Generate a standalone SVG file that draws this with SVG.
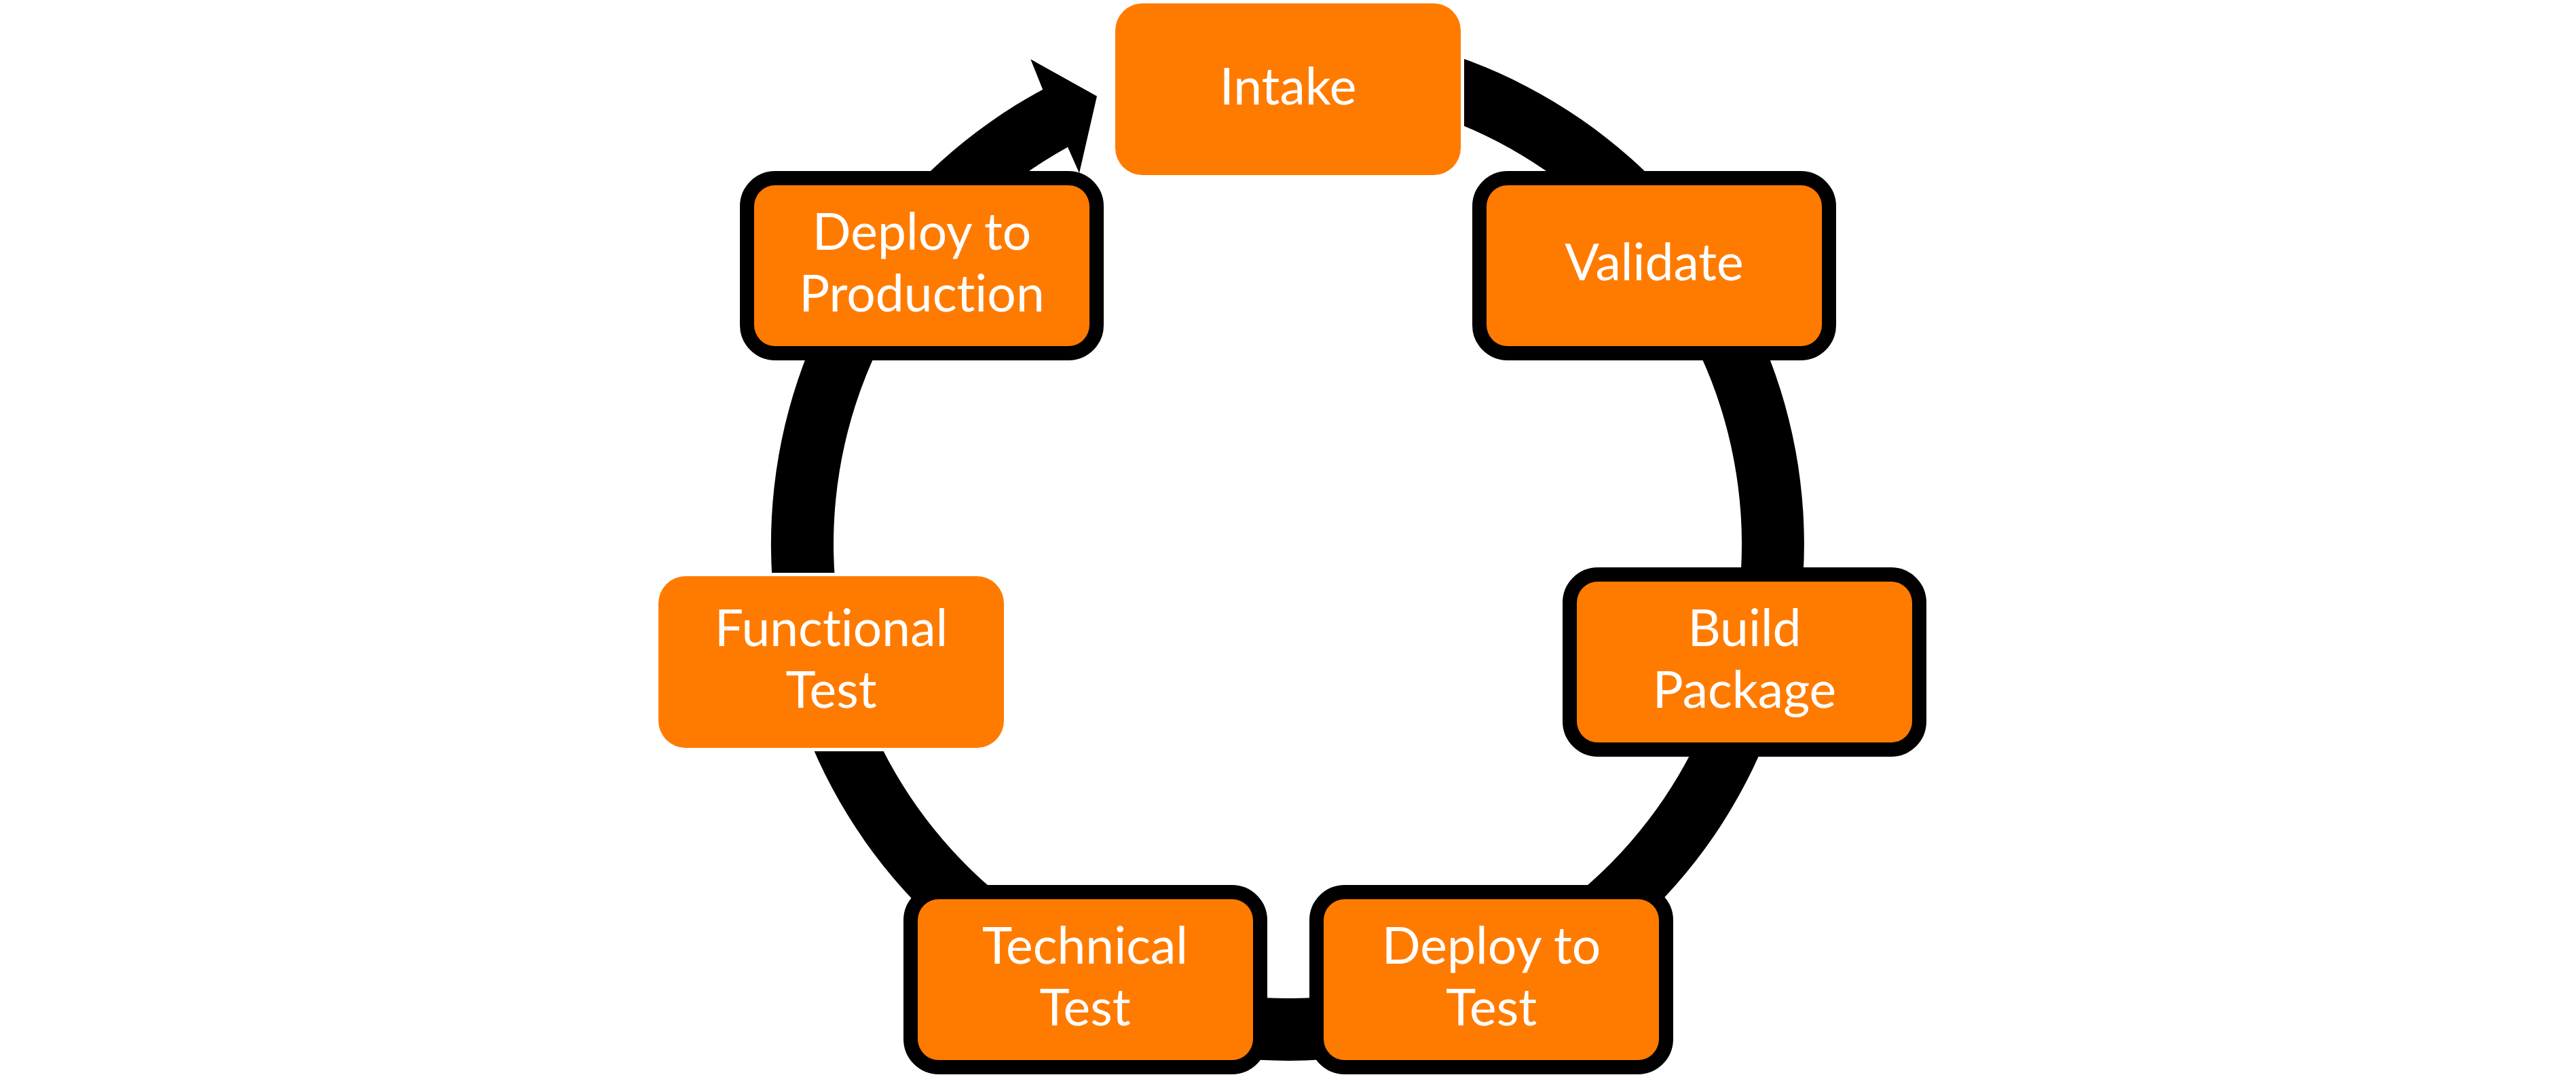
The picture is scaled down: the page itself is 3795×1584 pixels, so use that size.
<svg xmlns="http://www.w3.org/2000/svg" width="3795" height="1584" viewBox="0 0 3795 1584">
<style>
.plain{fill:#FF7B00;stroke:#FFFFFF;stroke-width:10;paint-order:stroke}
.bord{fill:#FF7B00;stroke:#000000;stroke-width:42;paint-order:stroke}
.lbl{font-family:Lato,"Open Sans","Liberation Sans",sans-serif;font-size:75px;fill:#FFFFFF;text-anchor:middle;font-variant-ligatures:none;font-feature-settings:"liga" 0,"clig" 0}
</style>
<rect width="3795" height="1584" fill="#FFFFFF"/>
<g id="connectors">
<path id="cycle-arrow" d="M 1897,41 A 761 761 0 1 1 1536.2,131.9 L 1518.3,87.3 L 1616,141.7 L 1590,255 L 1573,216.7 A 669 669 0 1 0 1897,133 Z" fill="#000000"/>
</g>
<g id="node-intake">
<rect class="plain" x="1643" y="5" width="509" height="253" rx="40" ry="40"/>
<text class="lbl" x="1897.5" y="154">Intake</text>
</g>
<g id="node-validate">
<rect class="bord" x="2190" y="273" width="494" height="237" rx="31" ry="31"/>
<text class="lbl" x="2437" y="413">Validate</text>
</g>
<g id="node-build-package">
<rect class="bord" x="2323" y="857" width="494" height="237" rx="31" ry="31"/>
<text class="lbl" x="2570" y="952">Build</text>
<text class="lbl" x="2570" y="1043">Package</text>
</g>
<g id="node-deploy-to-test">
<rect class="bord" x="1950" y="1325" width="494" height="237" rx="31" ry="31"/>
<text class="lbl" x="2197" y="1420">Deploy to</text>
<text class="lbl" x="2197" y="1511">Test</text>
</g>
<g id="node-technical-test">
<rect class="bord" x="1352" y="1325" width="494" height="237" rx="31" ry="31"/>
<text class="lbl" x="1598.5" y="1420">Technical</text>
<text class="lbl" x="1598.5" y="1511">Test</text>
</g>
<g id="node-functional-test">
<rect class="plain" x="970" y="849" width="509" height="253" rx="40" ry="40"/>
<text class="lbl" x="1224.5" y="952">Functional</text>
<text class="lbl" x="1224.5" y="1043">Test</text>
</g>
<g id="node-deploy-to-production">
<rect class="bord" x="1111" y="273" width="494" height="237" rx="31" ry="31"/>
<text class="lbl" x="1358" y="368">Deploy to</text>
<text class="lbl" x="1358" y="459">Production</text>
</g>
</svg>
